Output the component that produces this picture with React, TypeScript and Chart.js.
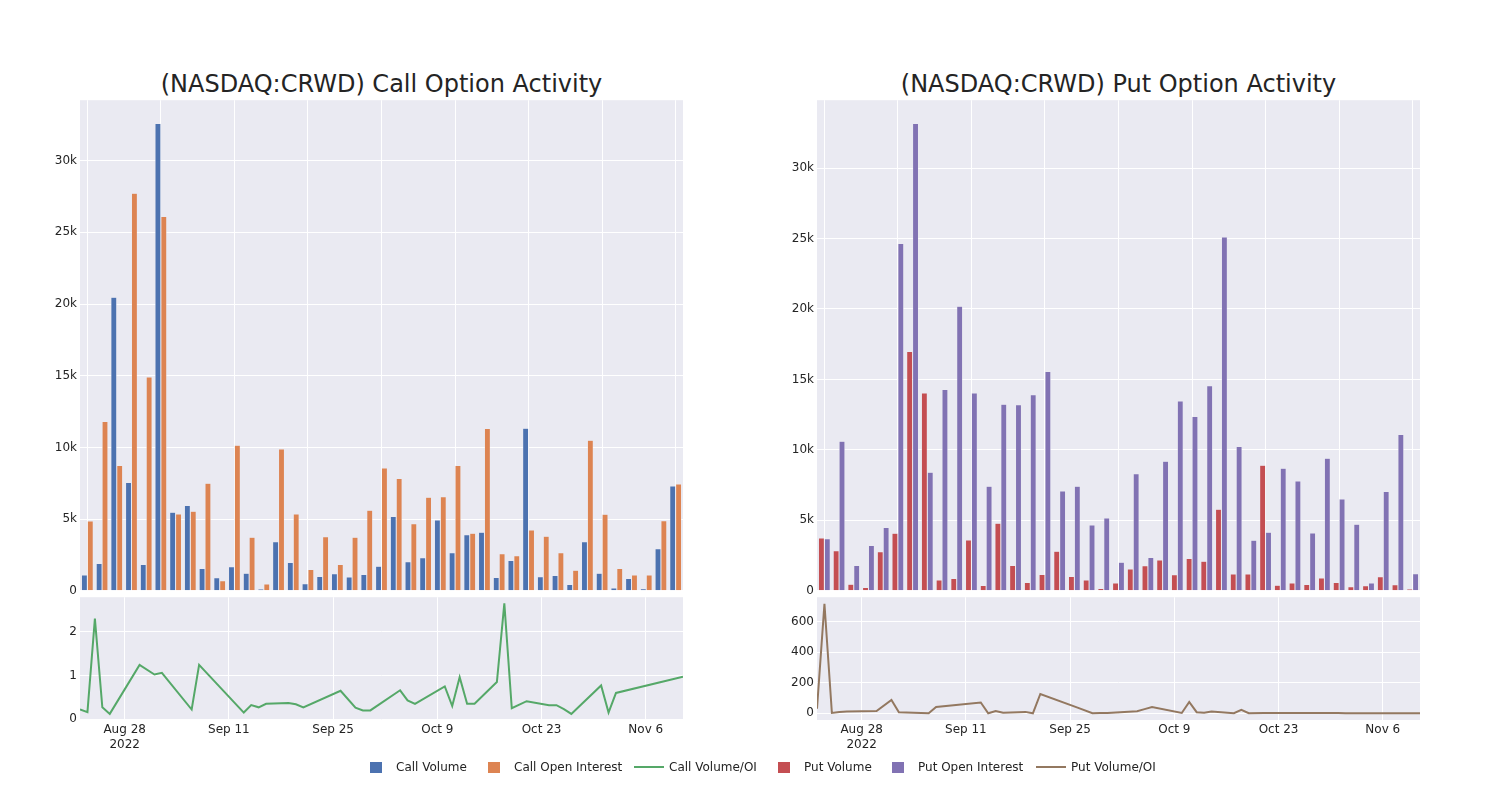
import React, { useEffect, useRef } from "react";
import { Chart, registerables } from "chart.js";

Chart.register(...registerables);

// ---------- data ----------
const dates = [
  "2022-08-22", "2022-08-23", "2022-08-24", "2022-08-25", "2022-08-26", "2022-08-30",
  "2022-09-01", "2022-09-02", "2022-09-06", "2022-09-07", "2022-09-13", "2022-09-14",
  "2022-09-15", "2022-09-16", "2022-09-19", "2022-09-20", "2022-09-21", "2022-09-26",
  "2022-09-28", "2022-09-29", "2022-09-30", "2022-10-04", "2022-10-05", "2022-10-06",
  "2022-10-10", "2022-10-11", "2022-10-12", "2022-10-13", "2022-10-14", "2022-10-17",
  "2022-10-18", "2022-10-19", "2022-10-21", "2022-10-24", "2022-10-25", "2022-10-26",
  "2022-10-27", "2022-10-31", "2022-11-01", "2022-11-02", "2022-11-11",
];

const callVolume = [
  1100, 1910, 20470, 7550, 1840, 32580, 5470, 5940, 1560, 910, 1680, 1230, 120, 3420,
  1980, 490, 1000, 1190, 960, 1140, 1720, 5190, 2030, 2310, 4940, 2660, 3910, 4080, 930,
  2120, 11340, 980, 1070, 440, 3420, 1230, 190, 860, 140, 2940, 7310,
];
const callOpenInterest = [
  4870, 11810, 8730, 27720, 14910, 26110, 5360, 5540, 7500, 700, 10150, 3730, 470, 9880,
  5360, 1490, 3770, 1840, 3730, 5610, 8570, 7830, 4680, 6520, 6550, 8730, 4010, 11320,
  2590, 2450, 4240, 3800, 2660, 1440, 10500, 5330, 1560, 1100, 1100, 4890, 7450,
];
const callVolumeOI = [
  0.22, 0.16, 2.3, 0.27, 0.12, 1.24, 1.02, 1.06, 0.22, 1.24, 0.15, 0.32, 0.27, 0.35, 0.37,
  0.34, 0.27, 0.65, 0.26, 0.2, 0.2, 0.66, 0.43, 0.35, 0.75, 0.3, 0.96, 0.35, 0.35, 0.85,
  2.65, 0.25, 0.41, 0.32, 0.32, 0.23, 0.12, 0.77, 0.15, 0.6, 0.97,
];

const putVolume = [
  3750, 2840, 470, 240, 2770, 4080, 16990, 14030, 760, 880, 3600, 380, 4790, 1800, 590,
  1160, 2800, 1020, 760, 170, 550, 1540, 1780, 2180, 1140, 2300, 2090, 5780, 1190, 1190,
  8910, 400, 550, 450, 900, 590, 280, 360, 1000, 430, 120,
];
const putOpenInterest = [
  3700, 10620, 1800, 3220, 4500, 24650, 33160, 8410, 14290, 20190, 14030, 7420, 13230,
  13200, 13910, 15570, 7090, 7420, 4670, 5170, 2020, 8300, 2370, 9200, 13460, 12370,
  14550, 25100, 10240, 3580, 4150, 8700, 7800, 4100, 9410, 6520, 4720, 550, 7040, 11090,
  1210,
];
const putVolumeOI = [
  30, 715, 2, 8, 11, 15, 87, 7, 0, 41, 70, 0, 15, 3, 9, 0, 126, 37, 0, 1, 2, 13, 27, 40,
  2, 74, 7, 3, 11, 0, 22, 0, 1, 1, 1, 1, 1, 1, 0.5, 0.5, 0.5,
];

const dateTicks = ["2022-08-28", "2022-09-11", "2022-09-25", "2022-10-09", "2022-10-23", "2022-11-06"];
const dateTickLabels: (string | string[])[] = [["Aug 28", "2022"], "Sep 11", "Sep 25", "Oct 9", "Oct 23", "Nov 6"];
const volumeTicks = [0, 5000, 10000, 15000, 20000, 25000, 30000];
const callRatioTicks = [0, 1, 2];
const putRatioTicks = [0, 200, 400, 600];

const legendItems = [
  { label: "Call Volume", color: "#4C72B0", kind: "bar", x: 356 },
  { label: "Call Open Interest", color: "#DD8452", kind: "bar", x: 474 },
  { label: "Call Volume/OI", color: "#55A868", kind: "line", x: 629 },
  { label: "Put Volume", color: "#C44E52", kind: "bar", x: 764 },
  { label: "Put Open Interest", color: "#8172B3", kind: "bar", x: 878 },
  { label: "Put Volume/OI", color: "#937860", kind: "line", x: 1031 },
];

// ---------- style ----------
const FONT = "DejaVu Sans";
const TEXT = "rgb(36,36,36)";
const PLOT_BG = "#EAEAF2";

const dayNum = (s: string) =>
  Date.UTC(+s.slice(0, 4), +s.slice(5, 7) - 1, +s.slice(8, 10)) / 86400000;

const bgPlugin = {
  id: "plotbg",
  beforeDraw(chart: any) {
    const { ctx, chartArea } = chart;
    ctx.save();
    ctx.fillStyle = PLOT_BG;
    ctx.fillRect(chartArea.left, chartArea.top, chartArea.right - chartArea.left, chartArea.bottom - chartArea.top);
    ctx.restore();
  },
};

const kfmt = (v: number) => (v === 0 ? "0" : v / 1000 + "k");

function barConfig(labels: string[], s1: any, s2: any, yMax: number) {
  return {
    type: "bar",
    data: {
      labels,
      datasets: [s1, s2].map((s) => ({
        label: s.label,
        data: s.data,
        backgroundColor: s.color,
        borderColor: PLOT_BG,
        borderWidth: 0.5,
        categoryPercentage: 0.8,
        barPercentage: 1,
      })),
    },
    options: {
      animation: false,
      responsive: false,
      maintainAspectRatio: false,
      layout: { padding: { top: 10, bottom: 10, left: 0, right: 10 } },
      plugins: { legend: { display: false }, tooltip: { enabled: false }, title: { display: false } },
      scales: {
        x: {
          offset: true,
          grid: {
            offset: false,
            drawTicks: false,
            lineWidth: 1,
            color: (c: any) => (c.index % 5 === 0 ? "#ffffff" : "rgba(0,0,0,0)"),
          },
          ticks: { display: false, autoSkip: false },
          border: { display: false },
          afterFit: (s: any) => {
            s.height = 0;
          },
        },
        y: {
          min: 0,
          max: yMax,
          afterBuildTicks: (s: any) => {
            s.ticks = volumeTicks.map((v) => ({ value: v }));
          },
          ticks: {
            callback: (v: any) => kfmt(Number(v)),
            font: { family: FONT, size: 12 },
            color: TEXT,
            padding: 3,
          },
          grid: { color: "#ffffff", drawTicks: false, lineWidth: 1 },
          border: { display: false },
          afterFit: (s: any) => {
            s.width = 80;
          },
        },
      },
    },
    plugins: [bgPlugin],
  };
}

function lineConfig(label: string, values: number[], color: string, yMin: number, yMax: number, yTicks: number[]) {
  return {
    type: "line",
    data: {
      datasets: [
        {
          label,
          data: dates.map((d, i) => ({ x: dayNum(d), y: values[i] })),
          borderColor: color,
          backgroundColor: color,
          borderWidth: 2,
          pointRadius: 0,
          fill: false,
          tension: 0,
        },
      ],
    },
    options: {
      animation: false,
      responsive: false,
      maintainAspectRatio: false,
      layout: { padding: { top: 10, bottom: 0, left: 0, right: 10 } },
      plugins: { legend: { display: false }, tooltip: { enabled: false } },
      scales: {
        x: {
          type: "linear",
          min: dayNum(dates[0]),
          max: dayNum(dates[dates.length - 1]),
          afterBuildTicks: (s: any) => {
            s.ticks = dateTicks.map((d) => ({ value: dayNum(d) }));
          },
          ticks: {
            callback: (_v: any, i: number) => dateTickLabels[i],
            autoSkip: false,
            maxRotation: 0,
            padding: 3,
            font: { family: FONT, size: 12 },
            color: TEXT,
          },
          grid: { color: "#ffffff", drawTicks: false, lineWidth: 1 },
          border: { display: false },
          afterFit: (s: any) => {
            s.height = 40;
          },
        },
        y: {
          min: yMin,
          max: yMax,
          afterBuildTicks: (s: any) => {
            s.ticks = yTicks.map((v) => ({ value: v }));
          },
          ticks: {
            callback: (v: any) => String(v),
            font: { family: FONT, size: 12 },
            color: TEXT,
            padding: 3,
          },
          grid: { color: "#ffffff", drawTicks: false, lineWidth: 1 },
          border: { display: false },
          afterFit: (s: any) => {
            s.width = 80;
          },
        },
      },
    },
    plugins: [bgPlugin],
  };
}

function ChartBox({ left, top, width, height, config }: any) {
  const ref = useRef<HTMLCanvasElement | null>(null);
  useEffect(() => {
    if (!ref.current) return;
    const chart = new Chart(ref.current, config);
    return () => chart.destroy();
  }, []);
  return (
    <canvas
      ref={ref}
      width={width}
      height={height}
      style={{ position: "absolute", left, top, width, height }}
    />
  );
}

export default function App() {
  const callBars = barConfig(
    dates,
    { label: "Call Volume", data: callVolume, color: "#4C72B0" },
    { label: "Call Open Interest", data: callOpenInterest, color: "#DD8452" },
    34212
  );
  const putBars = barConfig(
    dates,
    { label: "Put Volume", data: putVolume, color: "#C44E52" },
    { label: "Put Open Interest", data: putOpenInterest, color: "#8172B3" },
    34814
  );
  const callLine = lineConfig("Call Volume/OI", callVolumeOI, "#55A868", -0.02, 2.79, callRatioTicks);
  const putLine = lineConfig("Put Volume/OI", putVolumeOI, "#937860", -44, 758, putRatioTicks);

  const titleStyle: any = {
    position: "absolute",
    top: 72,
    height: 24,
    lineHeight: "24px",
    fontFamily: FONT,
    fontSize: 24,
    color: TEXT,
    textAlign: "center",
    whiteSpace: "nowrap",
  };

  return (
    <div style={{ position: "absolute", left: 0, top: 0, width: 1500, height: 800, background: "#fff", overflow: "hidden" }}>
      <div style={{ ...titleStyle, left: 80, width: 603 }}>(NASDAQ:CRWD) Call Option Activity</div>
      <div style={{ ...titleStyle, left: 817, width: 603 }}>(NASDAQ:CRWD) Put Option Activity</div>

      <ChartBox left={0} top={90} width={693} height={511} config={callBars} />
      <ChartBox left={0} top={587} width={693} height={173} config={callLine} />
      <ChartBox left={737} top={90} width={693} height={511} config={putBars} />
      <ChartBox left={737} top={587} width={693} height={173} config={putLine} />

      {legendItems.map((it) => (
        <React.Fragment key={it.label}>
          {it.kind === "bar" ? (
            <div
              style={{
                position: "absolute",
                left: it.x + 14,
                top: 762,
                width: 12,
                height: 11,
                background: it.color,
              }}
            />
          ) : (
            <div
              style={{
                position: "absolute",
                left: it.x + 5,
                top: 766,
                width: 30,
                height: 2,
                background: it.color,
              }}
            />
          )}
          <div
            style={{
              position: "absolute",
              left: it.x + 40,
              top: 759,
              height: 16,
              lineHeight: "16px",
              fontFamily: FONT,
              fontSize: 12,
              color: TEXT,
              whiteSpace: "nowrap",
            }}
          >
            {it.label}
          </div>
        </React.Fragment>
      ))}
    </div>
  );
}
